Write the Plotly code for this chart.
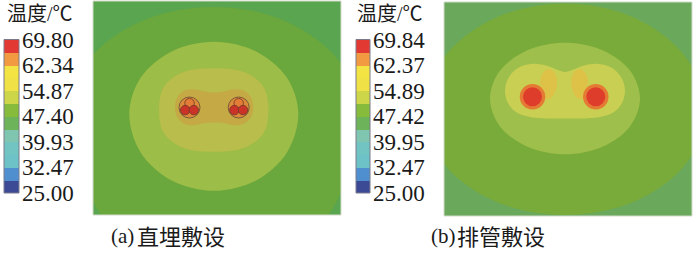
import plotly.graph_objects as go

W, H = 700, 253

# ---------------- colour-bar data ----------------
labels_a = ["25.00", "32.47", "39.93", "47.40", "54.87", "62.34", "69.80"]
levels_a = [25.00, 32.47, 39.93, 47.40, 54.87, 62.34, 69.80]
labels_b = ["25.00", "32.47", "39.95", "47.42", "54.89", "62.37", "69.84"]
levels_b = [25.00, 32.47, 39.95, 47.42, 54.89, 62.37, 69.84]
band_edges_a = [25.00, 28.73, 32.47, 36.20, 39.93, 43.67, 47.40, 51.13, 54.87, 58.60, 62.34, 66.07, 69.80]
band_edges_b = [25.00, 28.74, 32.47, 36.21, 39.95, 43.68, 47.42, 51.16, 54.89, 58.63, 62.37, 66.10, 69.84]
band_colors = ["#3c4a96", "#4f8fcf", "#6cc2c6", "#72c4c2", "#80c5b0", "#6db359",
               "#86bb3c", "#cdd548", "#f0e146", "#f3e443", "#f29a42", "#e23a33"]

# ---------------- (a) direct burial : digitised isotherm outlines (cm) ----------------
a_iso1_x = [262.5, 246.0, 191.5, 120.5, 49.5, -2.5, -21.5, -2.5, 49.5, 120.5, 191.5, 246.0]
a_iso1_y = [108.0, 60.0, 19.7, 6.0, 19.7, 57.0, 108.0, 195.5, 259.5, 283.0, 259.5, 195.5]
a_iso2_x = [205.3, 194.0, 163.1, 120.8, 78.6, 47.6, 36.3, 47.6, 78.6, 120.8, 163.1, 194.0]
a_iso2_y = [113.0, 76.8, 50.4, 40.7, 50.4, 76.8, 113.0, 151.4, 179.4, 189.7, 179.4, 151.4]
a_iso3_x = [175.4, 172.2, 162.3, 146.8, 120.7, 94.6, 79.1, 69.2, 66.0, 69.2, 79.1, 94.6,
            120.7, 146.8, 162.3, 172.2]
a_iso3_y = [109.0, 89.1, 77.3, 69.8, 67.3, 69.8, 77.3, 89.1, 109.0, 128.9, 140.7, 148.2,
            150.7, 148.2, 140.7, 128.9]
a_iso4_x = [160.3, 157.5, 149.0, 140.0, 130.0, 121.0, 112.0, 102.0, 93.0, 84.8, 82.0, 84.8,
            93.0, 102.0, 112.0, 121.0, 130.0, 140.0, 149.0, 157.5]
a_iso4_y = [106.2, 95.5, 89.0, 88.5, 90.5, 91.5, 90.5, 88.5, 89.0, 95.5, 106.2, 117.0,
            123.5, 124.0, 122.0, 121.5, 122.0, 124.0, 123.5, 117.0]
a_cable_x = [96.5, 145.7]
a_cable_y = [106.5, 106.5]
a_core_dx = [0.0, -4.3, 4.3]
a_core_dy = [-4.3, 2.6, 2.6]

# ---------------- (b) duct bank : digitised isotherm outlines (cm) ----------------
b_iso1_x = [261.0, 242.2, 191.0, 121.0, 51.0, -0.2, -19.0, -0.2, 51.0, 121.0, 191.0, 242.2]
b_iso1_y = [110.0, 55.8, 16.0, 1.5, 16.0, 55.8, 110.0, 161.5, 199.2, 213.0, 199.2, 161.5]
b_iso2_x = [196.0, 186.0, 158.5, 121.0, 83.5, 56.0, 46.0, 56.0, 83.5, 121.0, 158.5, 186.0]
b_iso2_y = [96.5, 68.6, 48.3, 40.8, 48.3, 68.6, 96.5, 124.4, 144.7, 152.2, 144.7, 124.4]
b_iso3_x = [181.0, 177.0, 168.0, 155.0, 140.0, 128.0, 121.0, 114.0, 102.0, 87.0, 74.0, 65.0,
            61.0, 64.0, 72.0, 86.0, 121.0, 156.0, 170.0, 178.0]
b_iso3_y = [88.0, 75.0, 66.0, 62.0, 63.5, 68.0, 70.0, 68.0, 63.5, 62.0, 66.0, 75.0,
            88.0, 101.0, 110.0, 115.0, 116.5, 115.0, 110.0, 101.0]
b_iso4_x = [104.0, 109.0, 112.0, 113.0, 111.5, 107.0, 99.0, 97.0, 96.5, 99.0]
b_iso4_y = [67.0, 69.0, 74.0, 81.0, 89.0, 96.0, 96.0, 86.0, 78.0, 71.0]
b_iso5_x = [136.3, 131.3, 128.3, 127.3, 128.8, 133.3, 141.3, 143.3, 143.8, 141.3]
b_iso5_y = [67.0, 69.0, 74.0, 81.0, 89.0, 96.0, 96.0, 86.0, 78.0, 71.0]
b_cable_x = [88.5, 151.8]
b_cable_y = [94.7, 94.7]

# ---------------- styles ----------------
a_colors = {"bg": "#5aa54f", "i1": "#6aa73c", "i2": "#9cbd47", "i3": "#b8bd4b", "i4": "#c4a944",
            "ring": "#dc8a3a", "core_top": "#e27c36", "core": "#cc3328"}
b_colors = {"bg": "#6aa85c", "i1": "#79ab3a", "i2": "#9ebf4b", "i3": "#c9cf52", "i4": "#ddc247",
            "ring": "#e57a35", "core": "#df3d2b"}


def closed(xs, ys):
    return list(xs) + [xs[0]], list(ys) + [ys[0]]


def region(xs, ys, color, xa, ya):
    cx, cy = closed(xs, ys)
    return go.Scatter(x=cx, y=cy, mode="lines", fill="toself", fillcolor=color,
                      line=dict(width=0, shape="spline", smoothing=1.0, color=color),
                      hoverinfo="skip", xaxis=xa, yaxis=ya, showlegend=False)


fig = go.Figure()

# panel (a)
for xs, ys, key in [(a_iso1_x, a_iso1_y, "i1"), (a_iso2_x, a_iso2_y, "i2"),
                    (a_iso3_x, a_iso3_y, "i3"), (a_iso4_x, a_iso4_y, "i4")]:
    fig.add_trace(region(xs, ys, a_colors[key], "x", "y"))
fig.add_trace(go.Scatter(x=a_cable_x, y=a_cable_y, mode="markers", xaxis="x", yaxis="y",
                         marker=dict(size=21, color=a_colors["ring"], line=dict(width=1, color="#7a5a3a")),
                         hoverinfo="skip", showlegend=False))
core_x, core_y, core_c = [], [], []
for cx, cy in zip(a_cable_x, a_cable_y):
    for k, (dx, dy) in enumerate(zip(a_core_dx, a_core_dy)):
        core_x.append(cx + dx)
        core_y.append(cy + dy)
        core_c.append(a_colors["core_top"] if k == 0 else a_colors["core"])
fig.add_trace(go.Scatter(x=core_x, y=core_y, mode="markers", xaxis="x", yaxis="y",
                         marker=dict(size=9.5, color=core_c, line=dict(width=0.8, color="#6e3a2a")),
                         hoverinfo="skip", showlegend=False))

# panel (b)
for xs, ys, key in [(b_iso1_x, b_iso1_y, "i1"), (b_iso2_x, b_iso2_y, "i2"),
                    (b_iso3_x, b_iso3_y, "i3"), (b_iso4_x, b_iso4_y, "i4"),
                    (b_iso5_x, b_iso5_y, "i4")]:
    fig.add_trace(region(xs, ys, b_colors[key], "x2", "y2"))
fig.add_trace(go.Scatter(x=b_cable_x, y=b_cable_y, mode="markers", xaxis="x2", yaxis="y2",
                         marker=dict(size=25.5, color=b_colors["ring"], line=dict(width=0)),
                         hoverinfo="skip", showlegend=False))
fig.add_trace(go.Scatter(x=b_cable_x, y=b_cable_y, mode="markers", xaxis="x2", yaxis="y2",
                         marker=dict(size=19, color=b_colors["core"], line=dict(width=0)),
                         hoverinfo="skip", showlegend=False))

# colour bars
for edges, xa, ya in [(band_edges_a, "x3", "y3"), (band_edges_b, "x4", "y4")]:
    fig.add_trace(go.Bar(x=[0] * (len(edges) - 1),
                         y=[edges[i + 1] - edges[i] for i in range(len(edges) - 1)],
                         base=edges[:-1], width=1.0,
                         marker=dict(color=band_colors, line=dict(width=0)),
                         xaxis=xa, yaxis=ya, hoverinfo="skip", showlegend=False))


def px_x(a, b):
    return [a / W, b / W]


def px_y(top, bottom):
    return [1 - bottom / H, 1 - top / H]


hidden = dict(visible=False, showgrid=False, zeroline=False, fixedrange=True, automargin=False)
tickfont = dict(family="Liberation Serif, Times New Roman, serif", size=23, color="#1a1a1a")
cbar_axis = dict(side="right", showgrid=False, zeroline=False, showline=False, ticks="",
                 tickfont=tickfont, fixedrange=True, automargin=False, ticklabelstandoff=2)

fig.update_layout(
    width=W, height=H, margin=dict(l=0, r=0, t=0, b=0, autoexpand=False),
    paper_bgcolor="white", plot_bgcolor="rgba(0,0,0,0)", showlegend=False,
    barmode="overlay", bargap=0,
    xaxis=dict(domain=px_x(93, 341), range=[0, 248], anchor="y", **hidden),
    yaxis=dict(domain=px_y(1, 215), range=[214, 0], anchor="x", **hidden),
    xaxis2=dict(domain=px_x(444, 692), range=[0, 248], anchor="y2", **hidden),
    yaxis2=dict(domain=px_y(2, 216), range=[214, 0], anchor="x2", **hidden),
    xaxis3=dict(domain=px_x(4, 19), range=[-0.5, 0.5], anchor="y3", **hidden),
    yaxis3=dict(domain=px_y(39.5, 193), range=[band_edges_a[0], band_edges_a[-1]], anchor="x3",
                tickvals=levels_a, ticktext=labels_a, **cbar_axis),
    xaxis4=dict(domain=px_x(356, 370), range=[-0.5, 0.5], anchor="y4", **hidden),
    yaxis4=dict(domain=px_y(39.5, 193), range=[band_edges_b[0], band_edges_b[-1]], anchor="x4",
                tickvals=levels_b, ticktext=labels_b, **cbar_axis),
)

# panel backgrounds (outermost temperature band) and frames
fig.add_shape(type="rect", xref="x domain", yref="y domain", x0=0, x1=1, y0=0, y1=1,
              fillcolor=a_colors["bg"], line=dict(width=0), layer="below")
fig.add_shape(type="rect", xref="x2 domain", yref="y2 domain", x0=0, x1=1, y0=0, y1=1,
              fillcolor=b_colors["bg"], line=dict(width=0), layer="below")
for xr, yr in [("x domain", "y domain"), ("x2 domain", "y2 domain")]:
    fig.add_shape(type="rect", xref=xr, yref=yr, x0=0, x1=1, y0=0, y1=1,
                  fillcolor="rgba(0,0,0,0)", line=dict(width=1, color="#d3dccb"), layer="above")
for xr, yr in [("x3 domain", "y3 domain"), ("x4 domain", "y4 domain")]:
    fig.add_shape(type="rect", xref=xr, yref=yr, x0=0, x1=1, y0=0, y1=1,
                  fillcolor="rgba(0,0,0,0)", line=dict(width=1, color="#7a7a8a"), layer="above")

cjk = "Liberation Serif, Noto Sans CJK SC, sans-serif"
for x0 in (5, 355):
    fig.add_annotation(text="温度/℃", xref="paper", yref="paper", x=x0 / W, y=1 - 14 / H,
                       xanchor="left", yanchor="middle", showarrow=False,
                       font=dict(family=cjk, size=20, color="#1a1a1a"))
for tag, x_tag, cap, x_cap in [("(a)", 109, "直埋敷设", 135), ("(b)", 429, "排管敷设", 455)]:
    fig.add_annotation(text=tag, xref="paper", yref="paper", x=x_tag / W, y=1 - 236 / H,
                       xanchor="left", yanchor="middle", showarrow=False,
                       font=dict(family="Liberation Serif, serif", size=21, color="#1a1a1a"))
    fig.add_annotation(text=cap, xref="paper", yref="paper", x=x_cap / W, y=1 - 235 / H,
                       xanchor="left", yanchor="middle", showarrow=False,
                       font=dict(family="Noto Sans CJK SC, sans-serif", size=22, color="#1a1a1a"))

fig.write_html("out.html", config={"displayModeBar": False},
               post_script="document.body.style.margin='0px';")
